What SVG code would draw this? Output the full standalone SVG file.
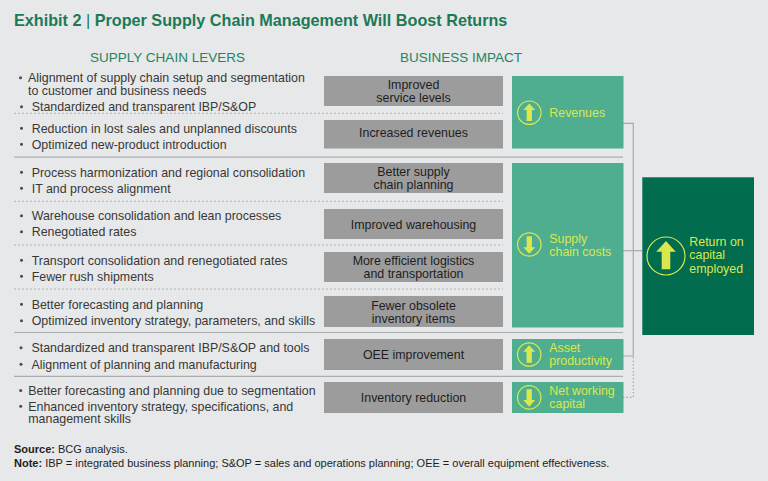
<svg xmlns="http://www.w3.org/2000/svg" width="768" height="481" viewBox="0 0 768 481">
<style>
  text { font-family: "Liberation Sans", Arial, sans-serif; }
  .title { font-size: 16.2px; font-weight: bold; fill: #1c7a56; }
  .hdr { font-size: 13.5px; fill: #248460; text-anchor: middle; }
  .lev { font-size: 12.4px; fill: #383838; }
  .bul { fill: #4a4a4a; }
  .gbox { fill: #9c9c9c; }
  .gtxt { font-size: 12.4px; fill: #1e1e1e; text-anchor: middle; }
  .mbox { fill: #4fae90; }
  .dbox { fill: #026c4f; }
  .ytxt { font-size: 12.4px; fill: #dbe74e; }
  .sep { stroke: #abadaf; stroke-width: 1.2; fill: none; }
  .dash { stroke: #b1b2b4; stroke-width: 1; stroke-dasharray: 2 2; fill: none; }
  .con { stroke: #a7a9ab; stroke-width: 1.2; fill: none; }
  .cond { stroke: #a7a9ab; stroke-width: 1.2; fill: none; stroke-dasharray: 1.5 2; }
  .foot { font-size: 11px; fill: #1e1e1e; }
  .ring { fill: none; stroke: #dbe74e; stroke-width: 1.2; }
  .arr { fill: #dbe74e; }
</style>
<defs>
  <g id="icon">
    <circle class="ring" cx="0" cy="0" r="19" vector-effect="non-scaling-stroke"/>
    <path class="arr" d="M0,-15 L9.7,-4.3 L4.3,-4.3 L4.3,13.3 L-4.3,13.3 L-4.3,-4.3 L-9.7,-4.3 Z"/>
  </g>
</defs>
<rect x="0" y="0" width="768" height="481" fill="#e7e8e9"/>

<text class="title" x="14" y="26">Exhibit 2 <tspan font-weight="normal">|</tspan> Proper Supply Chain Management Will Boost Returns</text>
<text class="hdr" x="167.5" y="62.3">SUPPLY CHAIN LEVERS</text>
<text class="hdr" x="461" y="62.3">BUSINESS IMPACT</text>

<g id="separators">
  <line class="dash" x1="14" y1="113.3" x2="503" y2="113.3"/>
  <line class="sep" x1="14" y1="157.2" x2="623" y2="157.2"/>
  <line class="dash" x1="14" y1="201.3" x2="503" y2="201.3"/>
  <line class="dash" x1="14" y1="245" x2="503" y2="245"/>
  <line class="dash" x1="14" y1="289" x2="503" y2="289"/>
  <line class="sep" x1="14" y1="332.5" x2="623" y2="332.5"/>
  <line class="sep" x1="14" y1="376.3" x2="623" y2="376.3"/>
</g>

<g id="levers1">
  <circle class="bul" cx="20.5" cy="77.8" r="1.5"/>
  <text class="lev" x="28" y="82">Alignment of supply chain setup and segmentation</text>
  <text class="lev" x="28" y="94.6">to customer and business needs</text>
  <circle class="bul" cx="21.5" cy="106.8" r="1.5"/>
  <text class="lev" x="31.7" y="111">Standardized and transparent IBP/S&amp;OP</text>
</g>
<g id="levers2">
  <circle class="bul" cx="21.5" cy="128.2" r="1.5"/>
  <text class="lev" x="31.7" y="132.5">Reduction in lost sales and unplanned discounts</text>
  <circle class="bul" cx="21.5" cy="144.2" r="1.5"/>
  <text class="lev" x="31.7" y="148.5">Optimized new-product introduction</text>
</g>
<g id="levers3">
  <circle class="bul" cx="21.5" cy="172.2" r="1.5"/>
  <text class="lev" x="31.7" y="176.5">Process harmonization and regional consolidation</text>
  <circle class="bul" cx="21.5" cy="188.2" r="1.5"/>
  <text class="lev" x="31.7" y="192.5">IT and process alignment</text>
</g>
<g id="levers4">
  <circle class="bul" cx="21.5" cy="215.7" r="1.5"/>
  <text class="lev" x="31.7" y="220">Warehouse consolidation and lean processes</text>
  <circle class="bul" cx="21.5" cy="231.7" r="1.5"/>
  <text class="lev" x="31.7" y="236">Renegotiated rates</text>
</g>
<g id="levers5">
  <circle class="bul" cx="21.5" cy="260.2" r="1.5"/>
  <text class="lev" x="31.7" y="264.5">Transport consolidation and renegotiated rates</text>
  <circle class="bul" cx="21.5" cy="276.2" r="1.5"/>
  <text class="lev" x="31.7" y="280.5">Fewer rush shipments</text>
</g>
<g id="levers6">
  <circle class="bul" cx="21.5" cy="304.2" r="1.5"/>
  <text class="lev" x="31.7" y="308.5">Better forecasting and planning</text>
  <circle class="bul" cx="21.5" cy="320.7" r="1.5"/>
  <text class="lev" x="31.7" y="325">Optimized inventory strategy, parameters, and skills</text>
</g>
<g id="levers7">
  <circle class="bul" cx="21" cy="347.7" r="1.5"/>
  <text class="lev" x="31.5" y="352">Standardized and transparent IBP/S&amp;OP and tools</text>
  <circle class="bul" cx="21" cy="364.2" r="1.5"/>
  <text class="lev" x="31.5" y="368.5">Alignment of planning and manufacturing</text>
</g>
<g id="levers8">
  <circle class="bul" cx="20.7" cy="390.5" r="1.5"/>
  <text class="lev" x="28.3" y="394.8">Better forecasting and planning due to segmentation</text>
  <circle class="bul" cx="20.7" cy="406.3" r="1.5"/>
  <text class="lev" x="28.3" y="410.6">Enhanced inventory strategy, specifications, and</text>
  <text class="lev" x="28.3" y="423.4">management skills</text>
</g>

<g id="impact-service">
  <rect class="gbox" x="324" y="76" width="179" height="30"/>
  <text class="gtxt" x="413.5" y="89.4">Improved</text>
  <text class="gtxt" x="413.5" y="102.1">service levels</text>
</g>
<g id="impact-revenues">
  <rect class="gbox" x="324" y="120" width="179" height="28.5"/>
  <text class="gtxt" x="413.5" y="136.7">Increased revenues</text>
</g>
<g id="impact-planning">
  <rect class="gbox" x="324" y="163" width="179" height="30"/>
  <text class="gtxt" x="413.5" y="175.9">Better supply</text>
  <text class="gtxt" x="413.5" y="188.6">chain planning</text>
</g>
<g id="impact-warehousing">
  <rect class="gbox" x="324" y="209" width="179" height="30"/>
  <text class="gtxt" x="413.5" y="229">Improved warehousing</text>
</g>
<g id="impact-logistics">
  <rect class="gbox" x="324" y="252" width="179" height="30"/>
  <text class="gtxt" x="413.5" y="265">More efficient logistics</text>
  <text class="gtxt" x="413.5" y="277.7">and transportation</text>
</g>
<g id="impact-obsolete">
  <rect class="gbox" x="324" y="296" width="179" height="31"/>
  <text class="gtxt" x="413.5" y="310.4">Fewer obsolete</text>
  <text class="gtxt" x="413.5" y="323.4">inventory items</text>
</g>
<g id="impact-oee">
  <rect class="gbox" x="324" y="339" width="179" height="31"/>
  <text class="gtxt" x="413.5" y="358.7">OEE improvement</text>
</g>
<g id="impact-inventory">
  <rect class="gbox" x="324" y="382" width="179" height="31"/>
  <text class="gtxt" x="413.5" y="402">Inventory reduction</text>
</g>

<g id="connectors">
  <path class="con" d="M623,123.3 H633.3 V356 H623"/>
  <path class="con" d="M623,250.7 H642.3"/>
  <path class="cond" d="M623,397.3 H633.3 V357"/>
</g>

<g id="revenues">
  <rect class="mbox" x="512" y="76" width="111.5" height="72.5"/>
  <use href="#icon" transform="translate(529.3,112.7) scale(0.616)"/>
  <text class="ytxt" x="549.3" y="117">Revenues</text>
</g>
<g id="supply-chain-costs">
  <rect class="mbox" x="512" y="163" width="111.5" height="164.5"/>
  <use href="#icon" transform="translate(529.3,244.5) scale(0.616) rotate(180)"/>
  <text class="ytxt" x="549.3" y="243">Supply</text>
  <text class="ytxt" x="549.3" y="255.8">chain costs</text>
</g>
<g id="asset-productivity">
  <rect class="mbox" x="512" y="339" width="111.5" height="31"/>
  <use href="#icon" transform="translate(529.2,354.5) scale(0.616)"/>
  <text class="ytxt" x="549.3" y="351.7">Asset</text>
  <text class="ytxt" x="549.3" y="364.5">productivity</text>
</g>
<g id="net-working-capital">
  <rect class="mbox" x="512" y="382" width="111.5" height="31"/>
  <use href="#icon" transform="translate(529.2,397.4) scale(0.616) rotate(180)"/>
  <text class="ytxt" x="549.3" y="395">Net working</text>
  <text class="ytxt" x="549.3" y="407.8">capital</text>
</g>
<g id="roce">
  <rect class="dbox" x="642.3" y="177.3" width="111.7" height="157.7"/>
  <use href="#icon" transform="translate(666,256)"/>
  <text class="ytxt" x="689.3" y="246.2">Return on</text>
  <text class="ytxt" x="689.3" y="259.4">capital</text>
  <text class="ytxt" x="689.3" y="272.6">employed</text>
</g>

<text class="foot" x="14" y="453.3"><tspan font-weight="bold">Source:</tspan> BCG analysis.</text>
<text class="foot" x="14" y="467.3"><tspan font-weight="bold">Note:</tspan> IBP = integrated business planning; S&amp;OP = sales and operations planning; OEE = overall equipment effectiveness.</text>
</svg>
